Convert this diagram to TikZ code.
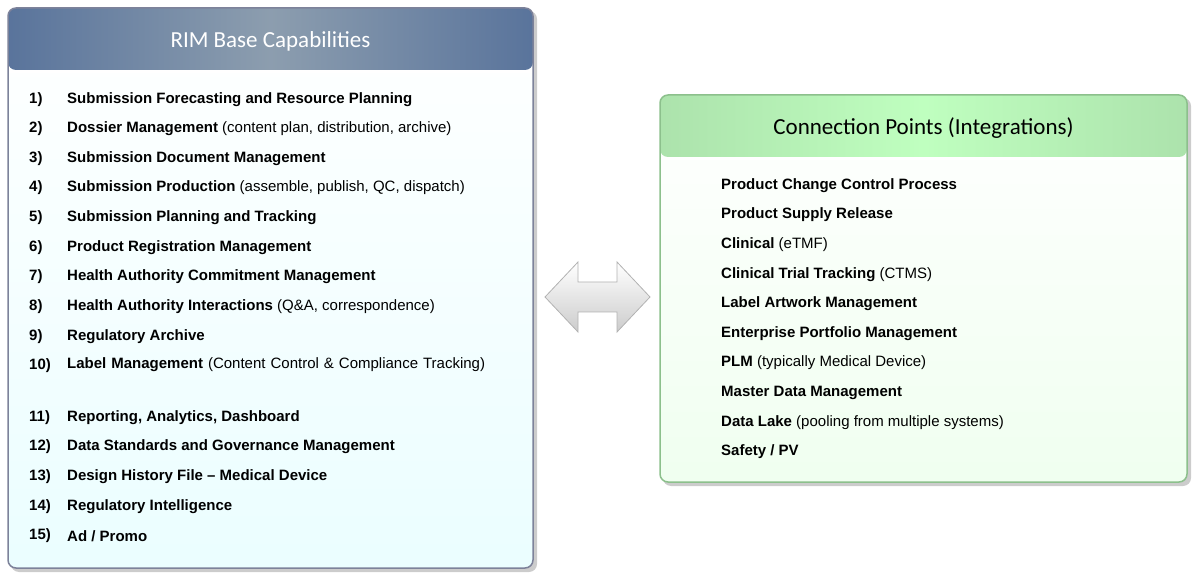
\documentclass[tikz,border=0pt]{standalone}
\usepackage{fontspec}
\setmainfont{Liberation Sans}
\newfontfamily\ttl{Carlito}
\begin{document}
\begin{tikzpicture}[x=1pt,y=-1pt,
 itm/.style={anchor=west,inner sep=0pt,font=\fontsize{15}{18}\selectfont,text=black},
 num/.style={itm,font=\fontsize{15}{18}\selectfont\bfseries}]
\useasboundingbox (0,0) rectangle (1200,585);
% left panel
\fill[black!20,rounded corners=8] (11,11) rectangle (537,572);
\shade[top color=white,bottom color=blue!5!cyan!8!white,rounded corners=8] (8,8) rectangle (533,568);
\begin{scope}
\clip[rounded corners=8] (8,8) rectangle (533,70);
\shade[left color=cyan!40!blue!40!black!65,right color=cyan!40!blue!40!black!65,middle color=cyan!50!blue!30!black!45] (8,8) rectangle (533,70);
\end{scope}
\fill[white] (8,70) rectangle (533,73);
\draw[line width=1.5,draw=cyan!40!blue!40!black!65,rounded corners=8] (8,8) rectangle (533,568);
\node[font=\ttl\fontsize{23}{26}\selectfont,text=white] (lt) at (270.5,41) {RIM Base Capabilities};
\foreach \n/\y/\t [count=\i] in {
 1)/100/{\textbf{Submission Forecasting and Resource Planning}},
 2)/129/{\textbf{Dossier Management} (content plan, distribution, archive)},
 3)/159/{\textbf{Submission Document Management}},
 4)/188/{\textbf{Submission Production} (assemble, publish, QC, dispatch)},
 5)/218/{\textbf{Submission Planning and Tracking}},
 6)/248/{\textbf{Product Registration Management}},
 7)/277/{\textbf{Health Authority Commitment Management}},
 8)/307/{\textbf{Health Authority Interactions} (Q\&A, correspondence)},
 9)/337/{\textbf{Regulatory Archive}},
 11)/418/{\textbf{Reporting, Analytics, Dashboard}},
 12)/447/{\textbf{Data Standards and Governance Management}},
 13)/477/{\textbf{Design History File – Medical Device}},
 14)/507/{\textbf{Regulatory Intelligence}},
 15)/536/{\textbf{Ad / Promo}}}{
 \node[num] (n\i) at (29,\y) {\n};
 \node[itm] (t\i) at (67,\y) {\t};
}
\node[num] (n10) at (29,366) {10)};
\node[itm,anchor=north west,text width=430,font=\fontsize{15}{21}\selectfont] (t10) at (67,357) {\textbf{Label Management} (Content Control \& Compliance Tracking)};
% right panel
\fill[black!20,rounded corners=8] (663,98) rectangle (1191,486);
\shade[top color=white,bottom color=green!6!white,rounded corners=8] (660,95) rectangle (1187,482);
\begin{scope}
\clip[rounded corners=8] (660,95) rectangle (1187,157);
\shade[left color=green!50!black!25!white!90!green,right color=green!50!black!25!white!90!green,middle color=green!25!white] (660,95) rectangle (1187,157);
\end{scope}
\fill[white] (660,157) rectangle (1187,160);
\draw[line width=1.5,draw=green!45!black!45!white,rounded corners=8] (660,95) rectangle (1187,482);
\node[font=\ttl\fontsize{23}{26}\selectfont,text=black] (rt) at (923.5,128) {Connection Points (Integrations)};
\foreach \y/\t [count=\i] in {
 186/{\textbf{Product Change Control Process}},
 215/{\textbf{Product Supply Release}},
 245/{\textbf{Clinical} (eTMF)},
 275/{\textbf{Clinical Trial Tracking} (CTMS)},
 304/{\textbf{Label Artwork Management}},
 334/{\textbf{Enterprise Portfolio Management}},
 363/{\textbf{PLM} (typically Medical Device)},
 393/{\textbf{Master Data Management}},
 423/{\textbf{Data Lake} (pooling from multiple systems)},
 452/{\textbf{Safety / PV}}}{
 \node[itm] (r\i) at (721,\y) {\t};
}
% double arrow
\shade[top color=white,bottom color=black!20,draw=black!30,line width=0.8]
 (545,297) -- (578,262) -- (578,282) -- (617,282) -- (617,262) -- (650,297)
 -- (617,332) -- (617,312) -- (578,312) -- (578,332) -- cycle;
\end{tikzpicture}
\end{document}
